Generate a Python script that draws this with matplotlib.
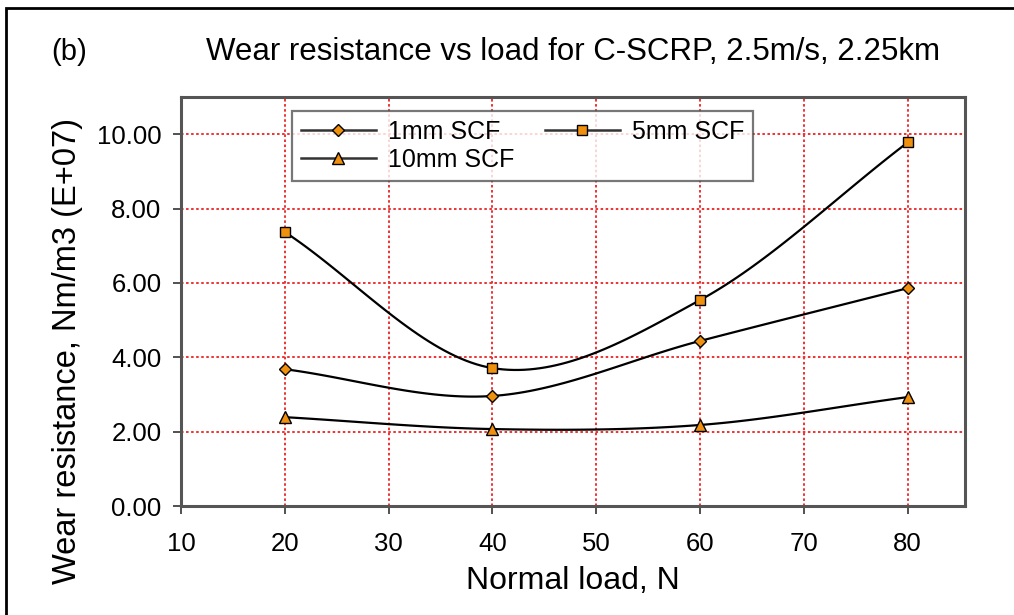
import numpy as np
import matplotlib
matplotlib.use("Agg")
import matplotlib.pyplot as plt
from matplotlib.patches import Rectangle

#---Data:
loads = [20, 40, 60, 80]
wr_1mm = [3.68, 2.96, 4.44, 5.86]
wr_5mm = [7.37, 3.71, 5.54, 9.78]
wr_10mm = [2.39, 2.07, 2.18, 2.93]
x_ticks = [10, 20, 30, 40, 50, 60, 70, 80]
y_ticks = [0, 2, 4, 6, 8, 10]

plt.rcParams['font.family'] = ['Liberation Sans', 'DejaVu Sans']


#---Excel-like smoothed line (Catmull-Rom through the points):
def smooth(xs, ys, n=40):
    p = np.column_stack([xs, ys]).astype(float)
    p = np.vstack([p[0] - (p[1] - p[0]), p, p[-1] + (p[-1] - p[-2])])
    out = []
    t = np.linspace(0, 1, n)[:, None]
    for i in range(1, len(p) - 2):
        p0, p1, p2, p3 = p[i - 1], p[i], p[i + 1], p[i + 2]
        seg = 0.5 * ((2 * p1) + (-p0 + p2) * t + (2 * p0 - 5 * p1 + 4 * p2 - p3) * t ** 2
                     + (-p0 + 3 * p1 - 3 * p2 + p3) * t ** 3)
        out.append(seg)
    out = np.vstack(out)
    return out[:, 0], out[:, 1]


fig = plt.figure(figsize=(10.14, 6.15), dpi=100)
ax = fig.add_axes([0.1785, 0.1772, 0.773, 0.665])

orange = "#f0900f"
series = [("1mm SCF", wr_1mm, "D", 6.5), ("10mm SCF", wr_10mm, "^", 8), ("5mm SCF", wr_5mm, "s", 7.5)]
for label, vals, mk, ms in series:
    sx, sy = smooth(loads, vals)
    ax.plot(sx, sy, color="black", lw=1.6, zorder=3)
    ax.plot(loads, vals, linestyle="none", marker=mk, ms=ms, mfc=orange, mec="black", mew=1.0, zorder=4)
    #---proxy for the legend:
    ax.plot([], [], color="#333333", lw=1.8, marker=mk, ms=ms, mfc=orange, mec="black", mew=1.0, label=label)

ax.set_xlim(10, 85.5)
ax.set_ylim(0, 11)
ax.set_xticks(x_ticks)
ax.set_yticks(y_ticks)
ax.set_yticklabels(["%.2f" % v for v in y_ticks])
ax.tick_params(labelsize=18.5, length=6, width=1.2, color="#333333")
ax.tick_params(axis="y", pad=8)
ax.tick_params(axis="x", pad=13)
ax.grid(True, color="#ee3333", linestyle=(0, (1.3, 1.3)), lw=1.4)
ax.set_axisbelow(True)
for s in ax.spines.values():
    s.set_color("#555555")
    s.set_linewidth(2.2)

ax.set_xlabel("Normal load, N", fontsize=23, labelpad=7)
ax.set_ylabel("Wear resistance, Nm/m3 (E+07)", fontsize=23.5, va="center")
ax.yaxis.set_label_coords(-0.145, 0.38)

leg = ax.legend(ncol=2, loc="upper left", bbox_to_anchor=(0.1416, 0.965), borderaxespad=0, fontsize=18,
                frameon=True, fancybox=False, edgecolor="#555555", handlelength=3.0,
                columnspacing=1.2, labelspacing=0.15, borderpad=0.35, handletextpad=0.5)
leg.get_frame().set_linewidth(1.6)

fig.text(0.565, 0.915, "Wear resistance vs load for C-SCRP, 2.5m/s, 2.25km", fontsize=22.5, ha="center", va="center")
fig.text(0.068, 0.915, "(b)", fontsize=21, ha="center", va="center")

#---outer frame:
fig.patches.append(Rectangle((0.006, -0.05), 1.2, 1.037, transform=fig.transFigure,
                             fill=False, edgecolor="black", lw=2))

fig.savefig("out.png", dpi=100)
